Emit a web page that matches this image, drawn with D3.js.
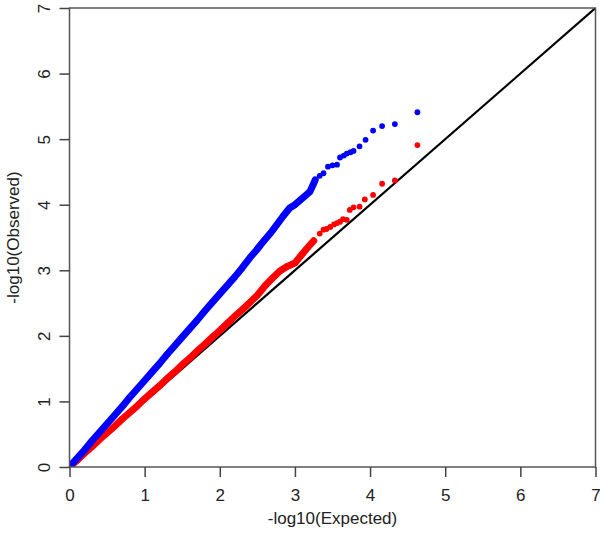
<!DOCTYPE html>
<html>
<head>
<meta charset="utf-8">
<script src="https://cdn.jsdelivr.net/npm/d3@7"></script>
<style>
  body { margin: 0; background: #fff; }
  svg { display: block; font-family: "Liberation Sans", Arial, sans-serif; }
</style>
</head>
<body>
<div class="chart"></div>
<script>
// expected vs observed -log10(p)
const blueExpected = [0.02, 0.1, 0.2, 0.3, 0.4, 0.5, 0.6, 0.7, 0.8, 0.9, 1.0, 1.1, 1.2, 1.3, 1.4, 1.5,
  1.6, 1.7, 1.8, 1.9, 2.0, 2.1, 2.2, 2.3, 2.4, 2.49, 2.58, 2.67, 2.75, 2.84, 2.93, 3.0, 3.07, 3.14,
  3.2, 3.24, 3.27, 3.33, 3.38, 3.44, 3.5, 3.56, 3.6, 3.65, 3.69, 3.74, 3.78, 3.86, 3.94, 4.04, 4.16, 4.33, 4.63];
const blueObserved = [0.03, 0.13, 0.26, 0.4, 0.53, 0.66, 0.79, 0.92, 1.06, 1.19, 1.32, 1.45, 1.58, 1.72, 1.85, 1.98,
  2.11, 2.24, 2.38, 2.51, 2.64, 2.77, 2.9, 3.04, 3.19, 3.31, 3.44, 3.56, 3.68, 3.82, 3.95, 4.0, 4.07, 4.14,
  4.2, 4.3, 4.38, 4.44, 4.48, 4.58, 4.6, 4.61, 4.72, 4.75, 4.78, 4.8, 4.82, 4.89, 4.99, 5.13, 5.2, 5.23, 5.41];

const redExpected = [0.02, 0.1, 0.2, 0.3, 0.4, 0.5, 0.6, 0.7, 0.8, 0.9, 1.0, 1.1, 1.2, 1.3, 1.4, 1.5,
  1.6, 1.7, 1.8, 1.9, 2.0, 2.1, 2.2, 2.3, 2.4, 2.5, 2.6, 2.7, 2.8, 2.9, 3.0, 3.07, 3.15, 3.25, 3.33,
  3.38, 3.42, 3.47, 3.52, 3.56, 3.6, 3.64, 3.69, 3.73, 3.78, 3.86, 3.93, 4.04, 4.16, 4.33, 4.63];
const redObserved = [0.02, 0.1, 0.21, 0.31, 0.42, 0.52, 0.62, 0.73, 0.83, 0.93, 1.04, 1.14, 1.24, 1.35, 1.45, 1.56,
  1.66, 1.77, 1.87, 1.98, 2.08, 2.19, 2.3, 2.4, 2.51, 2.62, 2.76, 2.88, 2.99, 3.06, 3.11, 3.21, 3.32, 3.45, 3.56,
  3.62, 3.63, 3.66, 3.7, 3.72, 3.74, 3.78, 3.77, 3.92, 3.96, 3.97, 4.08, 4.15, 4.32, 4.37, 4.91];

const axisTicks = [0, 1, 2, 3, 4, 5, 6, 7];
const denseLimit = 3.3; // below this the dots merge into a solid band

const margin = { top: 8, right: 4.5, bottom: 66, left: 69.5 };
const width = 600 - margin.left - margin.right;
const height = 533 - margin.top - margin.bottom;

const svg = d3.select('.chart').append('svg')
  .attr('width', 600)
  .attr('height', 533)
  .append('g')
  .attr('transform', `translate(${margin.left},${margin.top})`);

const x = d3.scaleLinear().domain([0, 7]).range([0, width]);
const y = d3.scaleLinear().domain([0, 7]).range([height, 0]);

svg.append('clipPath').attr('id', 'clip')
  .append('rect').attr('width', width).attr('height', height);

const plot = svg.append('g').attr('clip-path', 'url(#clip)');

// y = x reference line
plot.append('line')
  .attr('x1', x(0)).attr('y1', y(0))
  .attr('x2', x(7)).attr('y2', y(7))
  .attr('stroke', '#000')
  .attr('stroke-width', 2.2);

const series = [
  { xs: redExpected, ys: redObserved, color: '#ff0000' },
  { xs: blueExpected, ys: blueObserved, color: '#0000ff' }
];

const band = d3.line().x(d => x(d[0])).y(d => y(d[1]));

series.forEach(s => {
  const pts = s.xs.map((v, i) => [v, s.ys[i]]);
  plot.append('path')
    .datum(pts.filter(d => d[0] <= denseLimit))
    .attr('d', band)
    .attr('fill', 'none')
    .attr('stroke', s.color)
    .attr('stroke-width', 7)
    .attr('stroke-linecap', 'round')
    .attr('stroke-linejoin', 'round');

  plot.selectAll(null)
    .data(pts)
    .enter()
    .append('circle')
    .attr('cx', d => x(d[0]))
    .attr('cy', d => y(d[1]))
    .attr('r', 2.9)
    .attr('fill', s.color);
});

// frame
svg.append('rect')
  .attr('width', width)
  .attr('height', height)
  .attr('fill', 'none')
  .attr('stroke', '#555')
  .attr('stroke-width', 1.5);

const fmt = d3.format('d');

const xAxis = svg.append('g')
  .attr('transform', `translate(0,${height})`)
  .call(d3.axisBottom(x).tickValues(axisTicks).tickFormat(fmt).tickSize(10).tickSizeOuter(0));
xAxis.select('.domain').remove();
xAxis.selectAll('line').attr('stroke', '#444').attr('stroke-width', 1.5);
xAxis.selectAll('text')
  .attr('y', 34).attr('dy', 0)
  .attr('font-size', 17)
  .attr('fill', '#222');

const yAxis = svg.append('g')
  .call(d3.axisLeft(y).tickValues(axisTicks).tickFormat(fmt).tickSize(10).tickSizeOuter(0));
yAxis.select('.domain').remove();
yAxis.selectAll('line').attr('stroke', '#444').attr('stroke-width', 1.5);
yAxis.selectAll('text')
  .attr('transform', 'rotate(-90)')
  .attr('x', 0).attr('y', -20).attr('dy', 0)
  .attr('text-anchor', 'middle')
  .attr('font-size', 17)
  .attr('fill', '#222');

svg.append('text')
  .text('-log10(Expected)')
  .attr('x', width / 2)
  .attr('y', height + 57)
  .attr('text-anchor', 'middle')
  .attr('font-size', 17)
  .attr('fill', '#222');

svg.append('text')
  .text('-log10(Observed)')
  .attr('transform', `translate(${-margin.left + 19},${height / 2}) rotate(-90)`)
  .attr('text-anchor', 'middle')
  .attr('font-size', 17)
  .attr('fill', '#222');
</script>
</body>
</html>
